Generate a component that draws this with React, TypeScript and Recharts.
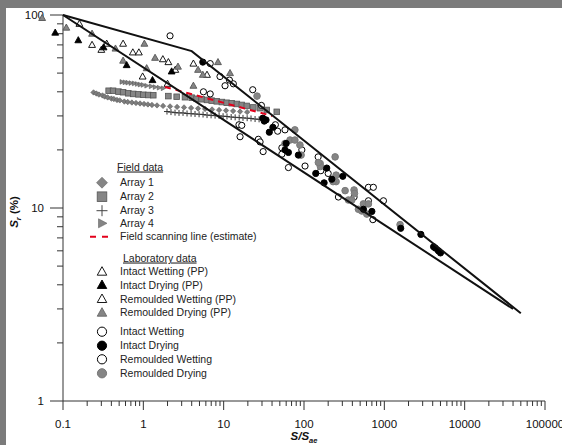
import React from "react";
import { ScatterChart, Scatter, XAxis, YAxis, Legend } from "recharts";

type Pt = [number, number];

// envelope lines
const upperBound: Pt[] = [[0.1, 100], [4, 65], [50000, 2.85]];
const lowerBound: Pt[] = [[0.1, 100], [40000, 3.0]];

// field data
const array1: Pt[] = [
  [0.24, 39.7], [0.26, 39.2], [0.28, 38.7], [0.31, 38.3], [0.33, 37.8], [0.36, 37.4],
  [0.4, 36.9], [0.43, 36.7], [0.47, 36.3], [0.51, 36.1], [0.58, 35.6], [0.64, 35.4],
  [0.72, 35.2], [0.81, 35.0], [0.91, 34.8], [1.02, 34.6], [1.14, 34.4], [1.28, 34.2],
  [1.48, 34.0], [1.76, 33.8], [2.15, 33.6], [2.63, 33.4], [3.21, 33.2], [3.93, 33.0],
  [4.8, 32.8], [5.87, 32.6], [7.17, 32.4], [8.77, 32.2], [10.7, 32.0], [13.1, 31.8],
  [16.0, 31.6], [19.6, 31.4],
];
const array2: Pt[] = [
  [0.37, 40.5], [0.42, 40.5], [0.49, 40.1], [0.56, 39.8], [0.65, 39.3], [0.75, 39.0],
  [0.87, 38.8], [1.0, 38.6], [1.15, 38.5], [1.33, 38.4], [2.05, 38.0], [2.6, 37.7],
  [3.3, 37.5], [4.0, 37.3], [4.6, 36.8], [5.3, 36.6], [6.2, 36.3], [7.1, 36.0],
  [8.2, 35.7], [9.5, 35.4], [10.9, 35.1], [12.6, 34.9], [14.6, 34.6], [16.8, 34.2],
  [19.4, 33.8], [23.4, 33.2], [28.4, 32.9], [34.4, 32.2], [45.8, 31.5],
];
const array3: Pt[] = [
  [1.97, 31.6], [2.21, 31.4], [2.48, 31.2], [2.78, 31.1], [3.12, 31.1], [3.5, 30.9],
  [3.93, 30.8], [4.4, 30.7], [4.94, 30.6], [5.54, 30.5], [6.21, 30.3], [6.97, 30.2],
  [7.82, 30.1], [8.77, 30.0], [9.83, 29.9], [11.0, 29.8], [12.4, 29.6], [13.9, 29.5],
  [15.6, 29.4], [17.4, 29.3], [19.6, 29.2], [21.9, 29.1], [24.6, 28.9], [27.6, 28.8],
  [31.0, 28.7],
];
const array4: Pt[] = [
  [0.54, 45.0], [0.59, 44.8], [0.64, 44.6], [0.7, 44.4], [0.77, 44.2], [0.84, 43.9],
  [0.91, 43.6], [0.99, 43.4], [1.1, 43.0], [1.25, 42.7], [1.4, 42.3], [1.57, 42.0],
  [1.76, 41.7],
];
const scanningLine: Pt[] = [[1.86, 42.4], [40, 30]];

// laboratory data (pressure plate)
const intactWettingPP: Pt[] = [
  [0.16, 90], [0.23, 70], [0.3, 66], [0.35, 71], [0.56, 71], [0.74, 64], [0.88, 64],
];
const remouldedWettingPP: Pt[] = [
  [0.98, 48], [1.75, 59], [2.05, 57], [2.5, 52], [2.0, 44], [4.2, 56], [6.2, 49],
];
const intactDryingPP: Pt[] = [[0.155, 74], [0.32, 68], [0.62, 55], [1.3, 46], [2.25, 51]];
const remouldedDryingPP: Pt[] = [
  [0.11, 86], [0.23, 80], [0.45, 67], [0.56, 58], [1.03, 71], [1.1, 53], [1.4, 60],
  [2.7, 54], [4.8, 52], [5.5, 49], [8.5, 57], [12, 50], [4.2, 43],
];
// points left of the y axis (S/Sae < 0.1)
const intactDryingPPLow: Pt[] = [[0.08, 81]];
const remouldedDryingPPLow: Pt[] = [[0.055, 96.5]];

// laboratory data (other methods)
const intactWetting: Pt[] = [
  [2.15, 78], [6.8, 56], [9.0, 48], [11.8, 46], [13.2, 44], [10.4, 43], [5.6, 40],
  [6.8, 39], [23, 41], [29.5, 34], [15.5, 27], [16.8, 26.8], [44, 27], [47, 25],
  [58, 25.4], [16, 23.4], [27, 22.7], [28.4, 22],
];
const remouldedWetting: Pt[] = [
  [53, 20.5], [53, 19], [94, 20], [31, 19.6], [64, 16.2], [103, 16.5], [150, 18.4],
  [162, 15.6], [200, 15.1], [268, 11.4], [420, 11.4], [634, 12.8], [730, 12.8],
  [975, 10.9], [634, 10.9], [720, 8.7],
];
const intactDrying: Pt[] = [
  [5.5, 57], [30.7, 29.2], [33.7, 28.6], [32, 28.2], [41, 26.2], [37, 24.7], [60, 21.6],
  [58, 20], [64, 19.4], [85, 18.8], [140, 15.1], [192, 16.1], [304, 14.6], [222, 14.1],
  [178, 13.5], [550, 9.85], [700, 9.6], [1600, 7.85], [2850, 7.3], [4100, 6.3],
  [4300, 6.2], [4700, 6.0], [5000, 5.85],
];
const remouldedDrying: Pt[] = [
  [26, 38], [77, 25.4], [67, 22.5], [77, 22.5], [58, 21.6], [89, 21.2], [92, 18.8],
  [244, 18.4], [159, 17], [160, 16.4], [151, 17.2], [251, 14.8], [251, 13.7], [230, 13.7],
  [325, 12.3], [420, 12.4], [425, 11.9], [357, 11.0], [394, 11.0], [549, 10.5],
  [476, 9.85], [524, 9.65], [605, 9.3], [634, 10.5], [1570, 8.2],
];

// axes
const xMajorTicks = [0.1, 1, 10, 100, 1000, 10000, 100000];
const xMajorLabels = ["0.1", "1", "10", "100", "1000", "10000", "100000"];
const yMajorTicks = [1, 10, 100];
const yMajorLabels = ["1", "10", "100"];
const minorSteps = [2, 3, 4, 5, 6, 7, 8, 9];

const withMinors = (majors: number[]) =>
  majors.flatMap((m, i) => (i < majors.length - 1 ? [m, ...minorSteps.map((k) => m * k)] : [m]));
const xTicks = withMinors(xMajorTicks);
const yTicks = withMinors(yMajorTicks);

const toObj = (pts: Pt[]) => pts.map(([x, y]) => ({ x, y }));

const FONT = "'Liberation Sans', Arial, sans-serif";
const AXIS = "#333";
const GREY = "#858585";

// ---- markers ----
const Circle = ({ cx, cy, r, fill, stroke }: any) => (
  <circle cx={cx} cy={cy} r={r} fill={fill} stroke={stroke} strokeWidth={1} />
);
const Tri = ({ cx, cy, s, fill, stroke }: any) => (
  <polygon
    points={`${cx},${cy - s} ${cx - s * 0.95},${cy + s * 0.7} ${cx + s * 0.95},${cy + s * 0.7}`}
    fill={fill}
    stroke={stroke}
    strokeWidth={0.9}
  />
);
const RightTri = ({ cx, cy, s, fill, stroke }: any) => (
  <polygon
    points={`${cx + s},${cy} ${cx - s * 0.7},${cy - s * 0.9} ${cx - s * 0.7},${cy + s * 0.9}`}
    fill={fill}
    stroke={stroke}
    strokeWidth={0.6}
  />
);
const Diamond = ({ cx, cy, s, fill, stroke }: any) => (
  <polygon
    points={`${cx},${cy - s} ${cx + s},${cy} ${cx},${cy + s} ${cx - s},${cy}`}
    fill={fill}
    stroke={stroke}
    strokeWidth={0.6}
  />
);
const Square = ({ cx, cy, s, fill, stroke }: any) => (
  <rect x={cx - s} y={cy - s} width={s * 2} height={s * 2} fill={fill} stroke={stroke} strokeWidth={0.8} />
);
const Plus = ({ cx, cy, s, stroke }: any) => (
  <g stroke={stroke} strokeWidth={1}>
    <line x1={cx - s} x2={cx + s} y1={cy} y2={cy} />
    <line x1={cx} x2={cx} y1={cy - s} y2={cy + s} />
  </g>
);

const noMark = () => <g />;

// ---- ticks ----
function YTick({ x, y, payload }: any) {
  const idx = yMajorTicks.indexOf(payload.value);
  const major = idx >= 0;
  return (
    <g>
      <line x1={x - (major ? 13 : 6)} x2={x} y1={y} y2={y} stroke={AXIS} />
      {major && (
        <text x={x - 19} y={y + 4} textAnchor="end" fontSize={11.5} fontFamily={FONT} fill="#111">
          {yMajorLabels[idx]}
        </text>
      )}
    </g>
  );
}

function XTick({ x, y, payload }: any) {
  const idx = xMajorTicks.indexOf(payload.value);
  const major = idx >= 0;
  return (
    <g>
      <line x1={x} x2={x} y1={y} y2={y + (major ? 9 : 5)} stroke={AXIS} />
      {major && (
        <text x={x} y={y + 27} textAnchor="middle" fontSize={11.5} fontFamily={FONT} fill="#111">
          {xMajorLabels[idx]}
        </text>
      )}
    </g>
  );
}

function XTitle({ viewBox }: any) {
  const cx = viewBox.x + viewBox.width / 2;
  return (
    <text x={cx} y={viewBox.y + 39} textAnchor="middle" fontFamily={FONT} fontSize={11.5} fontWeight="bold" fontStyle="italic" fill="#111">
      S/S
      <tspan fontSize={7.5} dy={3}>ae</tspan>
    </text>
  );
}

function YTitle({ viewBox }: any) {
  const cx = viewBox.x + 5;
  const cy = viewBox.y + viewBox.height / 2 + 4;
  return (
    <text x={cx} y={cy} transform={`rotate(-90 ${cx} ${cy})`} textAnchor="middle" fontFamily={FONT} fontSize={11.5} fontWeight="bold" fill="#111">
      <tspan fontStyle="italic">S</tspan>
      <tspan fontSize={7.5} dy={3} fontStyle="italic">r</tspan>
      <tspan dy={-3}> (%)</tspan>
    </text>
  );
}

// ---- legend ----
function LegendBox() {
  const tx = 34;
  const mx = 16;
  const label = (y: number, t: string) => (
    <text x={tx} y={y + 3.5} fontSize={10.5} fontFamily={FONT} fill="#222">{t}</text>
  );
  return (
    <svg width={200} height={225} style={{ display: "block", overflow: "visible" }}>
      <text x={31} y={12.5} fontSize={10.5} fontFamily={FONT} fill="#222" textDecoration="underline">Field data</text>
      <Diamond cx={mx} cy={24.7} s={5.5} fill={GREY} stroke="#666" />
      {label(24.7, "Array 1")}
      <Square cx={mx} cy={38.7} s={4.8} fill={GREY} stroke="#555" />
      {label(38.7, "Array 2")}
      <Plus cx={mx} cy={52.7} s={5.5} stroke="#444" />
      {label(52.7, "Array 3")}
      <RightTri cx={mx} cy={65.3} s={5} fill={GREY} stroke="#666" />
      {label(65.3, "Array 4")}
      <line x1={4} x2={28} y1={78.7} y2={78.7} stroke="#e3001b" strokeWidth={2} strokeDasharray="6 6" />
      {label(78.7, "Field scanning line (estimate)")}
      <text x={37} y={103.5} fontSize={10.5} fontFamily={FONT} fill="#222" textDecoration="underline">Laboratory data</text>
      <Tri cx={mx} cy={113.7} s={5} fill="#fff" stroke="#000" />
      {label(113.7, "Intact Wetting (PP)")}
      <Tri cx={mx} cy={127} s={5} fill="#000" stroke="#000" />
      {label(127, "Intact Drying (PP)")}
      <Tri cx={mx} cy={141} s={5} fill="#fff" stroke="#000" />
      {label(141, "Remoulded Wetting (PP)")}
      <Tri cx={mx} cy={154.7} s={5} fill={GREY} stroke="#666" />
      {label(154.7, "Remoulded Drying (PP)")}
      <Circle cx={mx} cy={173.7} r={4.6} fill="#fff" stroke="#000" />
      {label(173.7, "Intact Wetting")}
      <Circle cx={mx} cy={187.7} r={4.6} fill="#000" stroke="#000" />
      {label(187.7, "Intact Drying")}
      <Circle cx={mx} cy={201.3} r={4.6} fill="#fff" stroke="#000" />
      {label(201.3, "Remoulded Wetting")}
      <Circle cx={mx} cy={215.3} r={4.6} fill={GREY} stroke="#777" />
      {label(215.3, "Remoulded Drying")}
    </svg>
  );
}

const openTri = (p: any) => <Tri cx={p.cx} cy={p.cy} s={3.6} fill="#fff" stroke="#000" />;
const blackTri = (p: any) => <Tri cx={p.cx} cy={p.cy} s={3.6} fill="#000" stroke="#000" />;
const greyTri = (p: any) => <Tri cx={p.cx} cy={p.cy} s={3.6} fill={GREY} stroke="#555" />;
const openDot = (p: any) => <Circle cx={p.cx} cy={p.cy} r={3.1} fill="#fff" stroke="#000" />;
const blackDot = (p: any) => <Circle cx={p.cx} cy={p.cy} r={3.1} fill="#000" stroke="#000" />;
const greyDot = (p: any) => <Circle cx={p.cx} cy={p.cy} r={3.3} fill={GREY} stroke="#7a7a7a" />;

export default function App() {
  return (
    <div style={{ position: "absolute", left: 0, top: 0, width: 562, height: 445, background: "#7b7b7b", overflow: "hidden" }}>
      <div style={{ position: "absolute", left: 6, top: 8, width: 556, height: 437, background: "#fff", overflow: "hidden" }}>
        <ScatterChart width={556} height={437} margin={{ top: 7, right: 17, bottom: 14, left: 7 }}>
          <XAxis
            type="number"
            dataKey="x"
            scale="log"
            domain={[0.1, 100000]}
            ticks={xTicks}
            interval={0}
            tick={<XTick />}
            tickLine={false}
            tickSize={0}
            tickMargin={0}
            height={30}
            stroke={AXIS}
            label={<XTitle />}
          />
          <YAxis
            type="number"
            dataKey="y"
            scale="log"
            domain={[1, 100]}
            ticks={yTicks}
            interval={0}
            tick={<YTick />}
            tickLine={false}
            tickSize={0}
            tickMargin={0}
            width={50}
            stroke={AXIS}
            label={<YTitle />}
          />
          <Legend
            content={() => <LegendBox />}
            layout="vertical"
            align="center"
            verticalAlign="middle"
            wrapperStyle={{ left: 80, top: 150, width: 200, height: 225 }}
          />
          <Scatter data={toObj(array1)} isAnimationActive={false}
            shape={(p: any) => <Diamond cx={p.cx} cy={p.cy} s={2.7} fill="#7d7d7d" stroke="#5a5a5a" />} />
          <Scatter data={toObj(array4)} isAnimationActive={false}
            shape={(p: any) => <RightTri cx={p.cx} cy={p.cy} s={2.6} fill={GREY} stroke="#555" />} />
          <Scatter data={toObj(array3)} isAnimationActive={false}
            shape={(p: any) => <Plus cx={p.cx} cy={p.cy} s={3} stroke="#333" />} />
          <Scatter data={toObj(array2)} isAnimationActive={false}
            shape={(p: any) => <Square cx={p.cx} cy={p.cy} s={2.8} fill={GREY} stroke="#555" />} />
          <Scatter data={toObj(intactWettingPP)} isAnimationActive={false} shape={openTri} />
          <Scatter data={toObj(remouldedWettingPP)} isAnimationActive={false} shape={openTri} />
          <Scatter data={toObj(remouldedDryingPP)} isAnimationActive={false} shape={greyTri} />
          <Scatter data={toObj(intactDryingPP)} isAnimationActive={false} shape={blackTri} />
          <Scatter data={toObj(intactWetting)} isAnimationActive={false} shape={openDot} />
          <Scatter data={toObj(remouldedWetting)} isAnimationActive={false} shape={openDot} />
          <Scatter data={toObj(remouldedDrying)} isAnimationActive={false} shape={greyDot} />
          <Scatter data={toObj(intactDrying)} isAnimationActive={false} shape={blackDot} />
          <Scatter data={toObj(scanningLine)} isAnimationActive={false} shape={noMark}
            line={{ stroke: "#e3001b", strokeWidth: 2, strokeDasharray: "6 5" }} />
          <Scatter data={toObj(upperBound)} isAnimationActive={false} shape={noMark}
            line={{ stroke: "#111", strokeWidth: 2 }} />
          <Scatter data={toObj(lowerBound)} isAnimationActive={false} shape={noMark}
            line={{ stroke: "#111", strokeWidth: 2 }} />
        </ScatterChart>
        {/* same scales extended one decade to the left, for the points below S/Sae = 0.1 */}
        <div style={{ position: "absolute", left: -100, top: 0, pointerEvents: "none" }}>
          <ScatterChart width={656} height={437} margin={{ top: 7, right: 17, bottom: 44, left: 76.667 }}>
            <XAxis type="number" dataKey="x" scale="log" domain={[0.01, 100000]} hide />
            <YAxis type="number" dataKey="y" scale="log" domain={[1, 100]} hide />
            <Scatter data={toObj(intactDryingPPLow)} isAnimationActive={false} shape={blackTri} />
            <Scatter data={toObj(remouldedDryingPPLow)} isAnimationActive={false} shape={greyTri} />
          </ScatterChart>
        </div>
      </div>
    </div>
  );
}
